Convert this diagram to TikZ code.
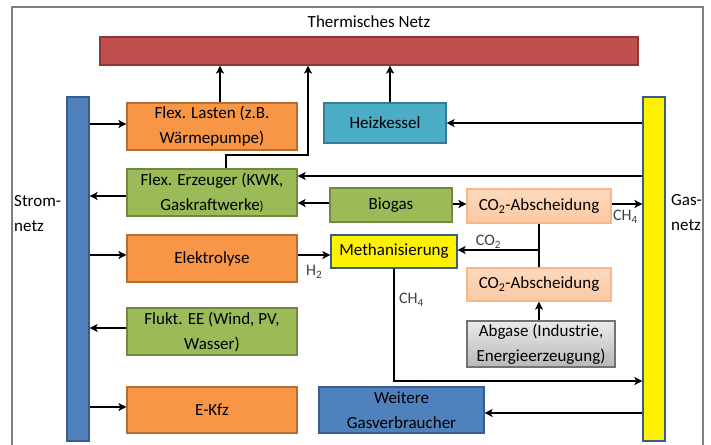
\documentclass[tikz,border=0pt]{standalone}
\usepackage{fontspec}
\setmainfont{Carlito}
\usetikzlibrary{arrows.meta}
\definecolor{waermerot}{HTML}{C0504D}
\definecolor{waermerand}{HTML}{8C3836}
\definecolor{stromblau}{HTML}{4F81BD}
\definecolor{blaurand}{HTML}{385D8A}
\definecolor{lastorange}{HTML}{F79646}
\definecolor{lastrand}{HTML}{B66D31}
\definecolor{erzgruen}{HTML}{9BBB59}
\definecolor{gruenrand}{HTML}{71893F}
\definecolor{kesseltuerkis}{HTML}{4BACC6}
\definecolor{tuerkisrand}{HTML}{357D91}
\definecolor{pfirsich}{HTML}{FBC9A2}
\definecolor{pfirsichrand}{HTML}{F7B58A}
\definecolor{rahmengrau}{HTML}{7F7F7F}
\tikzset{
  block/.style={draw, line width=1.2pt, inner sep=0pt, align=center, font=\fontsize{17}{25}\selectfont},
  breit/.style={block, minimum width=170pt, minimum height=47pt},
  lastbox/.style={breit, fill=lastorange, draw=lastrand},
  erzbox/.style={breit, fill=erzgruen, draw=gruenrand},
  abscheidbox/.style={block, minimum width=144pt, minimum height=34pt, top color=pfirsich!70, bottom color=pfirsich, draw=pfirsichrand},
  pfeil/.style={line width=1.6pt, -{Stealth[length=8pt,width=8pt,inset=2pt]}},
  linie/.style={line width=1.6pt},
  stoff/.style={font=\fontsize{16}{18}\selectfont, text=black!75, inner sep=1pt},
}
\begin{document}
\begin{tikzpicture}[x=1pt,y=-1pt]
\clip (0,0) rectangle (711,444);
\fill[white] (0,0) rectangle (711,444);
\draw[rahmengrau, line width=1.5pt] (12,7) rectangle (703,460);

% Netze
\node[block, fill=waermerot, draw=waermerand, minimum width=538pt, minimum height=28pt] (waerme) at (369,51) {};
\node[font=\fontsize{17}{20}\selectfont] (waermetext) at (369,22) {Thermisches Netz};
\node[block, fill=stromblau, draw=blaurand, minimum width=22pt, minimum height=344pt] (strom) at (78,269) {};
\node[font=\fontsize{17}{25}\selectfont, align=left, anchor=west, inner sep=0pt] (stromtext) at (14,214) {Strom-\\netz};
\node[block, fill=yellow, draw=blaurand, minimum width=22pt, minimum height=344pt] (gas) at (654,269) {};
\node[font=\fontsize{17}{25}\selectfont, align=left, anchor=west, inner sep=0pt] (gastext) at (671,213) {Gas-\\netz};

% linke Spalte
\node[lastbox] (lasten) at (212,126.5) {Flex. Lasten (z.B.\\Wärmepumpe)};
\node[erzbox] (erzeuger) at (212,192.5) {Flex. Erzeuger (KWK,\\Gaskraftwerke\fontsize{13}{25}\selectfont)};
\node[lastbox] (elektro) at (212,258.5) {Elektrolyse};
\node[erzbox] (flukt) at (212,331.5) {Flukt. EE (Wind, PV,\\Wasser)};
\node[lastbox, minimum height=46pt] (ekfz) at (212,410) {E-Kfz};

% Mitte und rechts
\node[block, fill=kesseltuerkis, draw=tuerkisrand, minimum width=122pt, minimum height=40pt] (kessel) at (385,123) {Heizkessel};
\node[block, fill=erzgruen, draw=gruenrand, minimum width=122pt, minimum height=34pt] (biogas) at (391,205) {Biogas};
\node[abscheidbox] (absch1) at (539,206) {CO\textsubscript{2}-Abscheidung};
\node[block, fill=yellow, draw=blaurand, minimum width=126pt, minimum height=33pt] (methan) at (394,251.5) {Methanisierung};
\node[abscheidbox, minimum height=33pt] (absch2) at (539,284.5) {CO\textsubscript{2}-Abscheidung};
\node[block, top color=white!92!black, bottom color=black!28, draw=black!55, minimum width=148pt, minimum height=46pt] (abgase) at (541,344) {Abgase (Industrie,\\Energieerzeugung)};
\node[block, fill=stromblau, draw=blaurand, minimum width=165pt, minimum height=46pt] (weitere) at (401.5,410) {Weitere\\Gasverbraucher};

% Stromnetz
\draw[pfeil] (strom.east |- 0,124) -- (lasten.west |- 0,124);
\draw[pfeil] (erzeuger.west |- 0,196) -- (strom.east |- 0,196);
\draw[pfeil] (strom.east |- 0,255) -- (elektro.west |- 0,255);
\draw[pfeil] (flukt.west |- 0,328) -- (strom.east |- 0,328);
\draw[pfeil] (strom.east |- 0,407) -- (ekfz.west |- 0,407);

% Waermenetz
\coordinate (knick) at (308,155);
\draw[pfeil] ([xshift=8pt]lasten.north) -- ([xshift=8pt]lasten.north |- waerme.south);
\draw[pfeil] ([xshift=14pt]erzeuger.north) |- (knick) -- (knick |- waerme.south);
\draw[pfeil] ([xshift=5pt]kessel.north) -- ([xshift=5pt]kessel.north |- waerme.south);

% Gasnetz
\draw[pfeil] (gas.west |- kessel.east) -- (kessel.east);
\draw[pfeil] (gas.west |- 0,176) -- (erzeuger.east |- 0,176);
\draw[pfeil] (biogas.west |- 0,203) -- (erzeuger.east |- 0,203);
\draw[pfeil] (biogas.east |- 0,204) -- (absch1.west |- 0,204);
\draw[pfeil] (absch1.east |- 0,204) -- (gas.west |- 0,204);
\node[stoff, anchor=north west] (ch4oben) at (612,209) {CH\textsubscript{4}};
\coordinate (abzweig) at (absch1.south |- 0,250);
\draw[linie] (absch1.south) -- (absch2.north);
\draw[pfeil] (abzweig) -- (methan.east |- abzweig) node[stoff, pos=0.62, above] (co2) {CO\textsubscript{2}};
\draw[pfeil] (elektro.east |- 0,255) -- (methan.west |- 0,255);
\node[stoff, anchor=north west] (h2) at (305,264) {H\textsubscript{2}};
\coordinate (sammel) at (methan.south |- 0,381);
\draw[pfeil] (methan.south) -- (sammel) -- (sammel -| gas.west);
\node[stoff, anchor=west] (ch4unten) at (398,300) {CH\textsubscript{4}};
\draw[pfeil] (absch2.south |- abgase.north) -- (absch2.south);
\draw[pfeil] (gas.west |- 0,413) -- (weitere.east |- 0,413);
\end{tikzpicture}
\end{document}
